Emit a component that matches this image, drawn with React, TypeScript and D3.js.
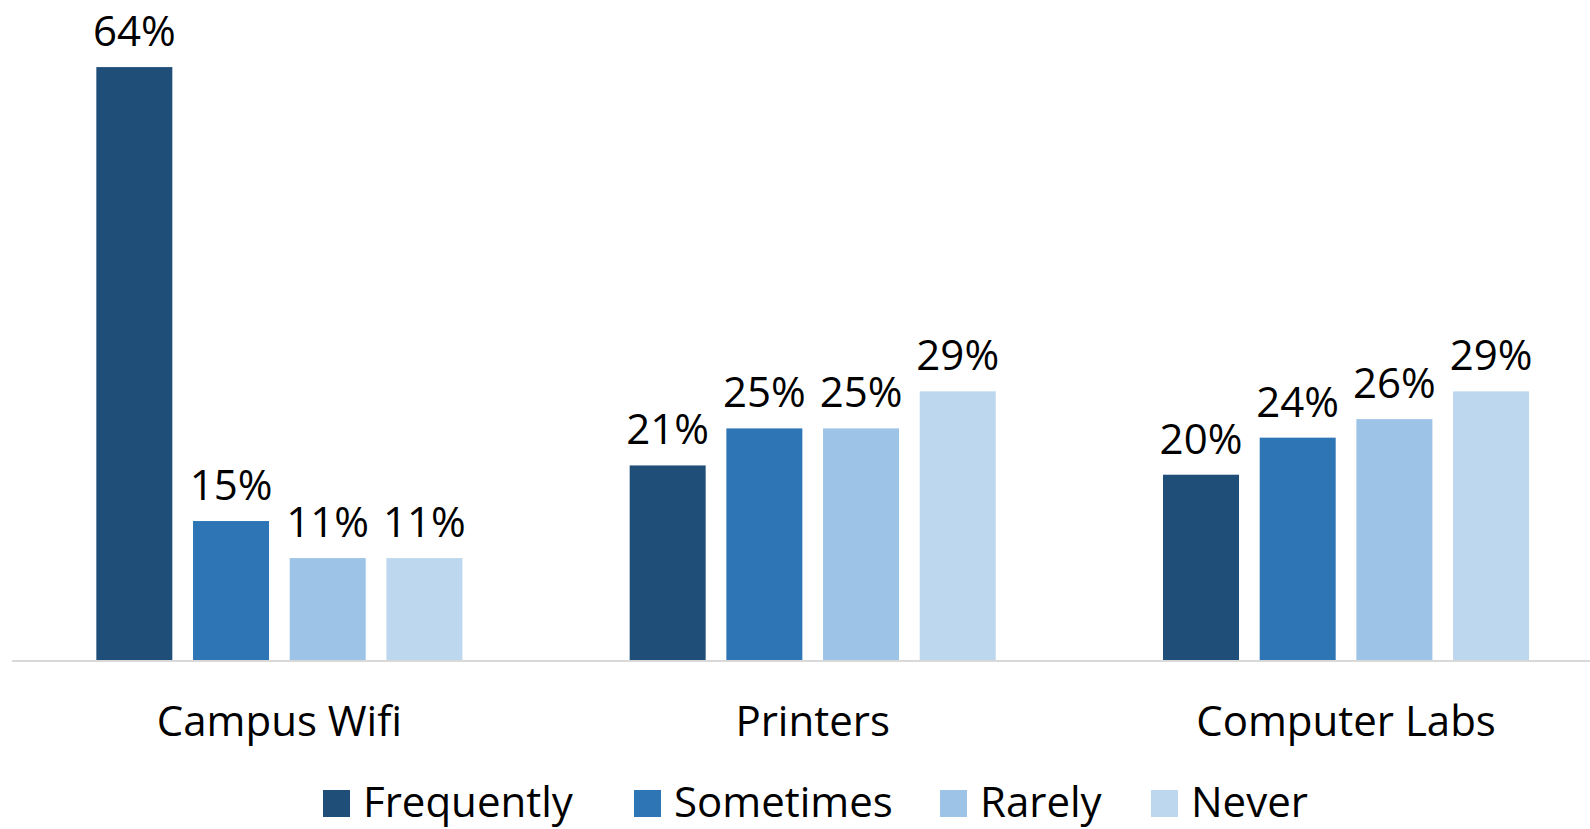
import React from "react";
import * as d3 from "d3";

const categories = ["Campus Wifi", "Printers", "Computer Labs"];
const seriesNames = ["Frequently", "Sometimes", "Rarely", "Never"];
const frequently = [0.64, 0.21, 0.20];
const sometimes = [0.15, 0.25, 0.24];
const rarely = [0.11, 0.25, 0.26];
const never = [0.11, 0.29, 0.29];
const seriesValues = [frequently, sometimes, rarely, never];
const colors = ["#1F4E79", "#2E75B6", "#9DC3E6", "#BDD7EE"];

const W = 1590;
const H = 829;
const FONT = "'Open Sans', 'Noto Sans', sans-serif";
const FS = 42;

export default function App() {
  const baseY = 660;
  const y = d3.scaleLinear().domain([0, 0.7]).range([baseY, 11.5]);
  const x0 = d3.scaleBand<string>().domain(categories).range([12.7, 1612.7]).padding(0);
  const x1 = d3
    .scaleBand<string>()
    .domain(seriesNames)
    .range([0, x0.bandwidth()])
    .paddingInner(0.214)
    .paddingOuter(0.865);
  const fmt = d3.format(".0%");
  const legendX = [323, 634, 940, 1151];

  return (
    <svg
      width={W}
      height={H}
      style={{ position: "absolute", left: 0, top: 0, background: "#fff" }}
      fontFamily={FONT}
    >
      <rect x={0} y={0} width={W} height={H} fill="#fff" />
      {categories.map((c, ci) => (
        <g key={c} transform={`translate(${x0(c)},0)`}>
          {seriesNames.map((s, si) => {
            const v = seriesValues[si][ci];
            const bx = x1(s)!;
            const bw = x1.bandwidth();
            return (
              <g key={s}>
                <rect x={bx} y={y(v)} width={bw} height={baseY - y(v)} fill={colors[si]} />
                <text
                  x={bx + bw / 2}
                  y={y(v) - 21}
                  textAnchor="middle"
                  fontSize={FS}
                  fill="#000"
                >
                  {fmt(v)}
                </text>
              </g>
            );
          })}
          <text
            x={x0.bandwidth() / 2}
            y={736}
            textAnchor="middle"
            fontSize={FS}
            fill="#000"
          >
            {c}
          </text>
        </g>
      ))}
      <line x1={12} x2={W} y1={baseY + 1} y2={baseY + 1} stroke="#D9D9D9" strokeWidth={2} />
      {seriesNames.map((s, si) => (
        <g key={s} transform={`translate(${legendX[si]},0)`}>
          <rect x={0} y={790} width={27} height={27} fill={colors[si]} />
          <text x={40} y={817} fontSize={FS} fill="#000">
            {s}
          </text>
        </g>
      ))}
    </svg>
  );
}
